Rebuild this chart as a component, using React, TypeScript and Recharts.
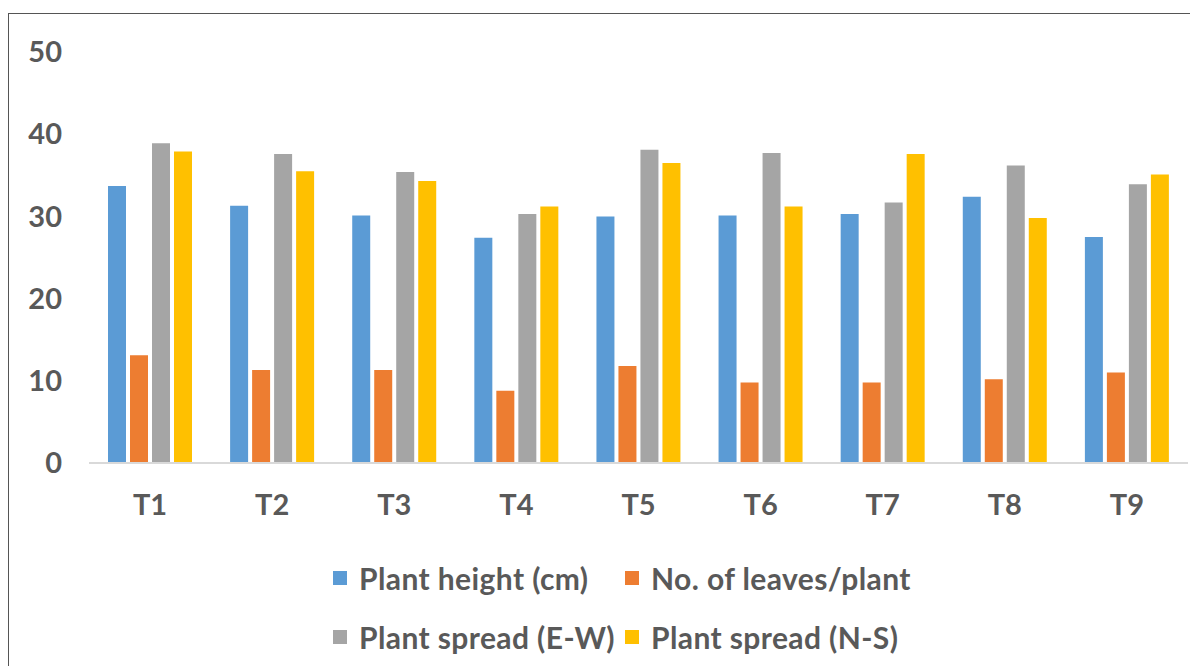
import React from 'react';
import { BarChart, Bar, XAxis, YAxis, Legend } from 'recharts';

const treatments = ['T1', 'T2', 'T3', 'T4', 'T5', 'T6', 'T7', 'T8', 'T9'];
const plantHeight = [33.7, 31.3, 30.1, 27.4, 30.0, 30.1, 30.3, 32.4, 27.5];
const leavesPerPlant = [13.1, 11.3, 11.3, 8.8, 11.8, 9.8, 9.8, 10.2, 11.0];
const spreadEW = [38.9, 37.6, 35.4, 30.3, 38.1, 37.7, 31.7, 36.2, 33.9];
const spreadNS = [37.9, 35.5, 34.3, 31.2, 36.5, 31.2, 37.6, 29.8, 35.1];
const yTicks = [0, 10, 20, 30, 40, 50];

const seriesNames = [
  'Plant height (cm)',
  'No. of leaves/plant',
  'Plant spread (E-W)',
  'Plant spread (N-S)',
];
const seriesColors = ['#5B9BD5', '#ED7D31', '#A5A5A5', '#FFC000'];

const FONT = 'Lato, "Open Sans", sans-serif';
const TEXT = '#595959';

const chartData = treatments.map((t, i) => ({
  name: t,
  height: plantHeight[i],
  leaves: leavesPerPlant[i],
  ew: spreadEW[i],
  ns: spreadNS[i],
}));

// two rows, two columns, like the Excel legend
function TwoRowLegend() {
  const item = (idx: number) => (
    <div style={{ display: 'flex', alignItems: 'center', height: 58 }}>
      <span style={{ width: 14, height: 14, background: seriesColors[idx], marginRight: 12, flexShrink: 0 }} />
      <span style={{ whiteSpace: 'nowrap' }}>{seriesNames[idx]}</span>
    </div>
  );
  return (
    <div
      style={{
        height: 133,
        paddingTop: 16,
        boxSizing: 'border-box',
        fontFamily: FONT,
        fontSize: 30,
        fontWeight: 'bold',
        letterSpacing: 0.4,
        color: TEXT,
        display: 'grid',
        gridTemplateColumns: '292px 320px',
        marginLeft: 333,
        textAlign: 'left',
      }}
    >
      {item(0)}
      {item(1)}
      {item(2)}
      {item(3)}
    </div>
  );
}

export default function App() {
  return (
    <div style={{ position: 'absolute', left: 0, top: 0, width: 1190, height: 666, background: '#fff', overflow: 'hidden' }}>
      <div style={{ position: 'absolute', left: 8, top: 13, width: 1300, height: 800, border: '1px solid #555' }} />
      <div style={{ position: 'absolute', left: 0, top: 0 }}>
        <BarChart
          width={1190}
          height={666}
          data={chartData}
          margin={{ top: 52, right: 2, left: 0, bottom: 0 }}
          barCategoryGap={19}
          barGap={4}
        >
          <XAxis
            dataKey="name"
            height={70}
            tick={{ fill: TEXT, fontSize: 29, fontWeight: 'bold', fontFamily: FONT }}
            axisLine={{ stroke: '#d9d9d9', strokeWidth: 2 }}
            tickLine={false}
            tickMargin={25}
          />
          <YAxis
            domain={[0, 50]}
            ticks={yTicks}
            width={89}
            tick={{ fill: TEXT, fontSize: 29, fontWeight: 'bold', fontFamily: FONT }}
            axisLine={false}
            tickLine={false}
            tickMargin={21}
          />
          <Legend verticalAlign="bottom" content={<TwoRowLegend />} />
          <Bar dataKey="height" name={seriesNames[0]} fill={seriesColors[0]} isAnimationActive={false} />
          <Bar dataKey="leaves" name={seriesNames[1]} fill={seriesColors[1]} isAnimationActive={false} />
          <Bar dataKey="ew" name={seriesNames[2]} fill={seriesColors[2]} isAnimationActive={false} />
          <Bar dataKey="ns" name={seriesNames[3]} fill={seriesColors[3]} isAnimationActive={false} />
        </BarChart>
      </div>
    </div>
  );
}
